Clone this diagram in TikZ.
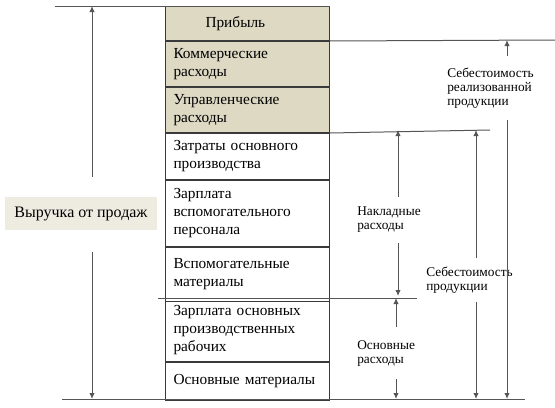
\documentclass[tikz,border=0pt]{standalone}
\usepackage{fontspec}
\setmainfont{Liberation Serif}
\usetikzlibrary{arrows.meta}
\definecolor{tanfill}{HTML}{DDD9C3}
\definecolor{palefill}{HTML}{EEECE1}
\definecolor{ln}{HTML}{3A3A3A}
\definecolor{cn}{HTML}{555555}
\begin{document}
\begin{tikzpicture}[x=0.75pt,y=-0.75pt,
  row/.style={draw=ln,line width=0.75pt,anchor=north west,text width=111pt,
    inner xsep=6pt,inner ysep=0pt,align=left,font=\fontsize{11.5}{13.5}\selectfont},
  conn/.style={draw=cn,line width=0.75pt},
  arr/.style={conn,-{Latex[length=4.5pt,width=4pt]}},
  lbl/.style={font=\fontsize{10}{10.5}\selectfont,align=left,inner sep=0pt,anchor=west}]
\useasboundingbox (0,0) rectangle (555,407);

% column of rows
\node[row,fill=tanfill,minimum height=25.5pt] (r1) at (165,6) {\hspace*{24pt}Прибыль};
\node[row,fill=tanfill,minimum height=33.75pt] (r2) at (r1.south west) {Коммерческие\\расходы};
\node[row,fill=tanfill,minimum height=33.75pt] (r3) at (r2.south west) {Управленческие\\расходы};
\node[row,minimum height=34.5pt] (r4) at (r3.south west) {Затраты основного\\производства};
\node[row,minimum height=49.5pt] (r5) at (r4.south west) {Зарплата\\вспомогательного\\персонала};
\node[row,minimum height=40.5pt] (r6) at (r5.south west) {Вспомогательные\\материалы};
\node[row,minimum height=47.25pt] (r7) at (165,298) {Зарплата основных\\производственных\\рабочих};
\node[row,minimum height=28.5pt] (r8) at (r7.south west) {Основные материалы};

% level lines
\coordinate (tl) at (55,6);
\coordinate (e40) at (555,40);
\coordinate (e130) at (490,130);
\coordinate (m298l) at (158,298);
\coordinate (m298r) at (417,298);
\coordinate (bl) at (62,399);
\coordinate (br) at (525,399);
\draw[conn] (tl) -- (r1.north east);
\draw[conn] (r1.south east) -- (e40);
\draw[conn] (r3.south east) -- (e130);
\draw[conn] (m298l) -- (m298r);
\draw[conn] (bl) -- (br);

% revenue
\node[fill=palefill,font=\fontsize{12}{14}\selectfont,minimum width=114pt,minimum height=24.75pt,inner sep=0pt] (rev) at (81,213.5) {Выручка от продаж};
\coordinate (vt) at (92,6);
\coordinate (vb) at (92,399);
\coordinate (lt) at (92,177);
\coordinate (lb) at (92,252);
\draw[arr] (lt) -- (vt);
\draw[arr] (lb) -- (vb);

% overhead costs
\node[lbl,minimum height=34.5pt] (nk) at (357,220) {Накладные\\расходы};
\coordinate (nkt) at (398,130);
\coordinate (nkb) at (398,296);
\draw[arr] (nk.north -| nkt) -- (nkt);
\draw[arr] (nk.south -| nkb) -- (nkb);

% main costs
\node[lbl,minimum height=38.25pt] (os) at (357,353) {Основные\\расходы};
\coordinate (ost) at (396,298);
\coordinate (osb) at (396,399);
\draw[arr] (os.north -| ost) -- (ost);
\draw[arr] (os.south -| osb) -- (osb);

% cost of production
\node[lbl,minimum height=33pt] (sp) at (426,280) {Себестоимость\\продукции};
\coordinate (spt) at (476,130);
\coordinate (spb) at (476,399);
\draw[arr] (sp.north -| spt) -- (spt);
\draw[arr] (sp.south -| spb) -- (spb);

% cost of sold production
\node[lbl,minimum height=48pt] (sr) at (447,88) {Себестоимость\\реализованной\\продукции};
\coordinate (srt) at (507,40);
\coordinate (srb) at (507,399);
\draw[arr] (sr.north -| srt) -- (srt);
\draw[arr] (sr.south -| srb) -- (srb);
\end{tikzpicture}
\end{document}
